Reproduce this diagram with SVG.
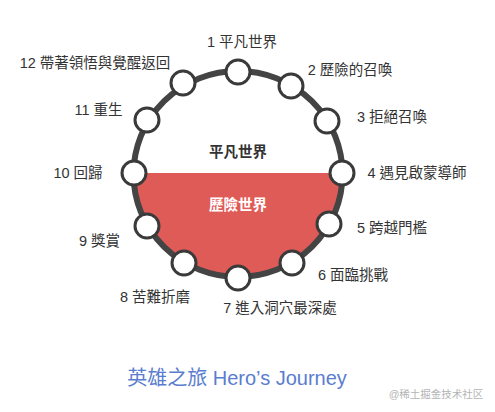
<svg xmlns="http://www.w3.org/2000/svg" width="495" height="412" viewBox="0 0 495 412">
  <style>
    .lbl { font-family: "Liberation Sans", "Noto Sans CJK TC", sans-serif; font-size: 14.5px; fill: #333333; text-anchor: middle; }
    .node { fill: #ffffff; stroke: #3a3a3a; stroke-width: 3; }
    .ring { fill: none; stroke: #444444; stroke-width: 6; }
    .world { font-family: "Noto Sans CJK TC", "Liberation Sans", sans-serif; font-size: 14.5px; font-weight: 600; text-anchor: middle; }
  </style>
  <rect width="495" height="412" fill="#ffffff"/>
  <g id="adventure-world">
    <path d="M 133.5,173 A 104.5 103 0 0 0 342.5,173 Z" fill="#df5b58"/>
    <text class="world" x="238" y="210" fill="#ffffff">歷險世界</text>
  </g>
  <g id="ordinary-world">
    <text class="world" x="238" y="157" fill="#333333">平凡世界</text>
  </g>
  <g id="connectors">
    <ellipse class="ring" cx="238" cy="174" rx="104.5" ry="103"/>
  </g>
  <g id="n1"><circle class="node" cx="238" cy="72" r="12"/><text class="lbl" x="242" y="47">1 平凡世界</text></g>
  <g id="n2"><circle class="node" cx="291" cy="86" r="12"/><text class="lbl" x="350" y="75">2 歷險的召喚</text></g>
  <g id="n3"><circle class="node" cx="327" cy="121" r="12"/><text class="lbl" x="392" y="122">3 拒絕召喚</text></g>
  <g id="n4"><circle class="node" cx="342" cy="173" r="12"/><text class="lbl" x="417" y="178">4 遇見啟蒙導師</text></g>
  <g id="n5"><circle class="node" cx="329" cy="224" r="12"/><text class="lbl" x="392" y="233">5 跨越門檻</text></g>
  <g id="n6"><circle class="node" cx="292" cy="263" r="12"/><text class="lbl" x="353" y="280">6 面臨挑戰</text></g>
  <g id="n7"><circle class="node" cx="238" cy="278" r="12"/><text class="lbl" x="280" y="313">7 進入洞穴最深處</text></g>
  <g id="n8"><circle class="node" cx="184" cy="263" r="12"/><text class="lbl" x="155" y="302">8 苦難折磨</text></g>
  <g id="n9"><circle class="node" cx="147" cy="226" r="12"/><text class="lbl" x="99.5" y="246">9 獎賞</text></g>
  <g id="n10"><circle class="node" cx="134" cy="173" r="12"/><text class="lbl" x="78" y="178">10 回歸</text></g>
  <g id="n11"><circle class="node" cx="147" cy="120" r="12"/><text class="lbl" x="98.5" y="115">11 重生</text></g>
  <g id="n12"><circle class="node" cx="183" cy="83" r="12"/><text class="lbl" x="95" y="68">12 帶著領悟與覺醒返回</text></g>
  <text x="237" y="385" font-family="'Liberation Sans', 'Noto Sans CJK TC', sans-serif" font-size="20" fill="#5a7dcf" text-anchor="middle">英雄之旅 Hero’s Journey</text>
  <text x="436" y="398" font-family="'Liberation Sans', 'Noto Sans CJK SC', sans-serif" font-size="10.5" fill="#b4b4b4" text-anchor="middle">@稀土掘金技术社区</text>
</svg>
